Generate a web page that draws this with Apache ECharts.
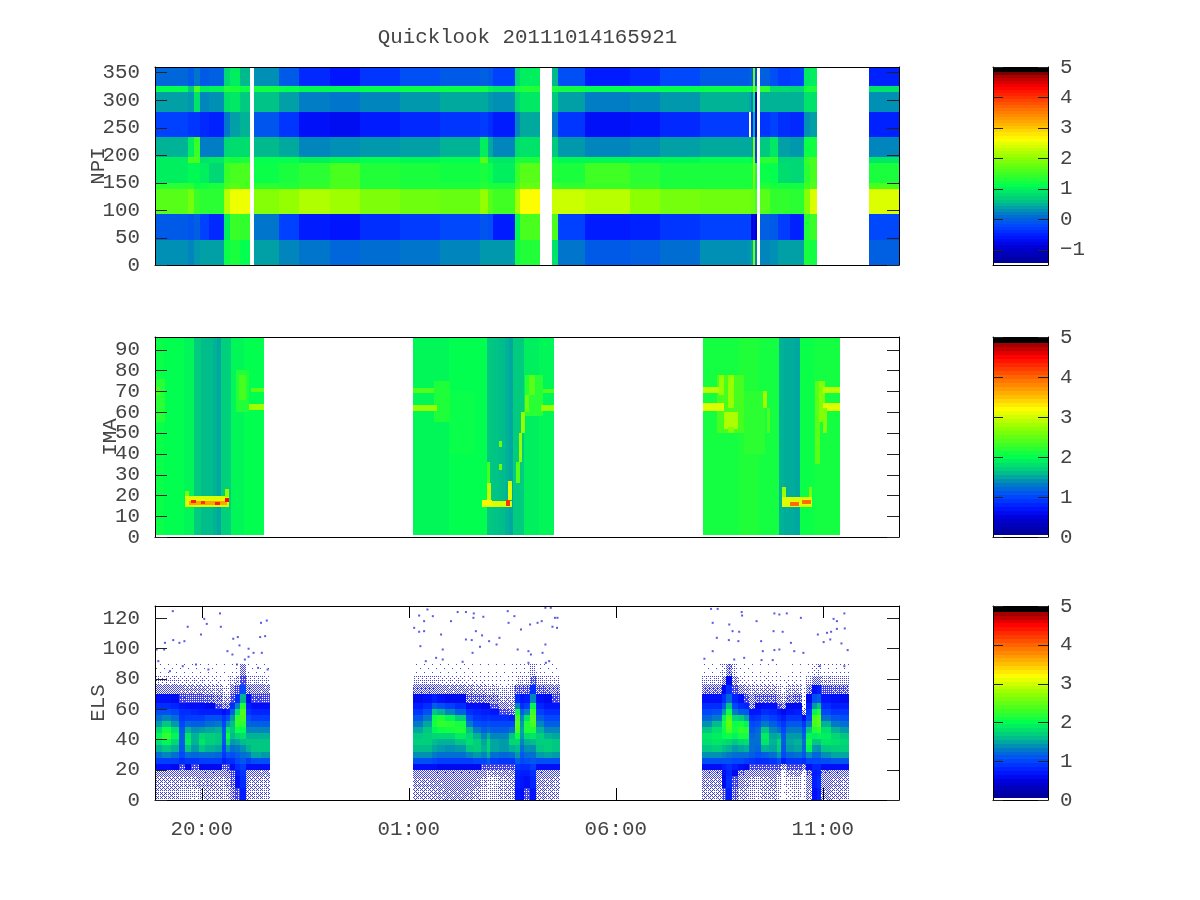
<!DOCTYPE html>
<html><head><meta charset="utf-8">
<style>html,body{margin:0;padding:0;background:#fff}#c{width:1200px;height:900px}</style>
<script src="https://cdn.jsdelivr.net/npm/echarts@6/dist/echarts.min.js"></script>
</head><body><div id="c"></div>
<script>
const titleText = 'Quicklook 20111014165921';
const timeMin = 18.87, timeMax = 36.84;
const timeTicks = [20, 25, 30, 35];

// NPI: column edges (hours), row edges (degrees), columns bottom -> top
const npiEdges = [18.87,19.655,19.824,19.945,20.186,20.525,20.67,20.911,21.17,21.273,21.877,22.36,23.085,23.81,24.776,25.742,26.708,26.902,27.022,27.554,27.674,28.181,28.447,28.592,29.244,30.331,31.056,32.022,33.206,33.254,33.302,33.351,33.399,33.472,33.714,33.907,34.196,34.534,34.68,34.849,36.105,36.841];
const npiRowEdges = [0,46,92,139,150,185,197,232,278,314,325,360];
const npiColumns = [
[.25,-.1,1.6,1.3,.9,.9,.45,-.3,.35,1.05,0],
[.2,-.15,1.8,1.3,1,1.5,.9,-.4,.3,.6,-.1],
[.3,-.05,1.4,1.1,1,1.5,1.4,-.4,.8,1.5,.1],
[.35,-.3,1.3,1.15,.9,.8,.15,-.5,.2,.9,-.1],
[.35,-.5,1.3,1.2,.7,.85,.15,-.55,.25,.95,-.05],
[1.1,.9,2.2,1.5,1.4,1.2,.7,.1,.8,1.25,.7],
[1.2,1.4,2.5,1.6,1.5,1.15,.75,.35,.85,1.2,.9],
[1.05,1.35,2.5,1.5,1.5,1.2,.75,.45,.6,1.1,.5],
null,
[.35,.1,1.9,1.3,1.1,1.05,.5,-.15,.55,1.15,.25],
[.2,-.3,2,1.25,1.2,1.05,.4,-.4,.35,1.05,-.1],
[.1,-.6,2.15,1.35,1.3,.95,.2,-.7,.15,1,-.5],
[0,-.65,2.05,1.5,1.5,1,.25,-.75,.1,1,-.65],
[.05,-.45,1.85,1.25,1.25,1.05,.3,-.6,.2,1.05,-.4],
[.1,-.35,1.75,1.2,1.2,1,.35,-.5,.3,1.1,-.2],
[.2,-.25,1.7,1.2,1.15,1.05,.45,-.4,.4,1.1,-.1],
[.3,-.15,2,1.25,1.2,1.6,.9,-.35,.4,1.15,-.05],
[.3,-.2,1.6,1.2,1.1,.9,.4,-.45,.3,.95,-.1],
[.3,-.6,1.45,1.2,.9,.85,.2,-.6,.25,.85,-.3],
[1.15,1,2.1,1.5,1.4,1.2,.75,.2,.7,1.2,.7],
[1.25,1.5,2.6,1.7,1.6,1.2,.8,.4,.85,1.25,.9],
null,
[.8,1.5,2.3,1.4,1.25,1.1,.6,.1,.6,1.2,.5],
[.1,-.3,2.3,1.35,1.2,1,.3,-.4,.35,1.15,-.2],
[-.1,-.6,2.2,1.4,1.45,1,.2,-.7,.15,1.05,-.6],
[-.05,-.55,1.95,1.35,1.3,1,.25,-.65,.2,1.05,-.5],
[.05,-.4,1.8,1.2,1.2,1,.35,-.5,.3,1.05,-.25],
[.25,-.3,1.75,1.2,1.2,1.05,.4,-.35,.45,1.1,-.1],
[.3,-.3,1.75,1.2,1.2,1.05,.4,null,.4,1.1,-.05],
[.4,-.9,1.7,1.2,1.2,1,.4,-.5,.1,1.1,0],
[1.8,-.8,1.7,1.8,1.9,1.9,1.9,.5,1,1.9,1.8],
[.2,-1,1.5,1.1,1.1,-.2,-.3,-.8,-1,1,-.2],
null,
[.2,-.05,1.6,1.25,1.1,1.3,.6,-.4,.45,1.3,-.05],
[.25,-.1,1.35,1.2,1.05,1.35,.85,-.3,.45,.75,-.2],
[.35,-.35,1.35,1.15,.75,.7,.35,-.45,.45,.75,-.35],
[.35,-.55,1.3,1.15,.7,.7,.3,-.5,.45,.7,-.3],
[1.2,1.25,1.9,1.45,1.3,1.4,1.1,.25,.8,1.2,.85],
[1.15,1.4,2.4,1.55,1.5,1.5,1.15,.35,.8,1.2,.9],
null,
[-.05,-.25,2.4,1.5,1.2,.85,.2,-.55,.25,.8,-.55]
];

// IMA: background column edges (hours) and column levels, plus read-off ridge patches
const imaBgEdges = [18.88,19.09,19.34,19.58,19.82,19.99,20.13,20.28,20.37,20.47,20.71,21.03,21.51,25.11,25.5,25.98,26.46,26.9,27.04,27.19,27.33,27.43,27.52,27.79,28.15,28.51,32.11,32.5,32.98,33.47,33.93,34.07,34.19,34.34,34.46,34.79,35.16,35.42];
const imaBgValues = [2,1.95,1.95,1.9,1.62,1.55,1.55,1.5,1.45,1.65,1.9,1.95,null,1.9,1.9,1.95,1.95,1.6,1.58,1.55,1.5,1.45,1.62,1.85,1.9,null,2.05,2.05,2.1,2.05,1.5,1.48,1.48,1.45,2,2.05,2.05];
const imaRowEdges = [1,96];
const imaPatches = [
[19.6,20.66,14.5,19.5,3],[19.7,20.6,15.5,17.5,3.6],[19.75,19.85,16.5,18,4.3],[19.98,20.08,16,17.5,4.2],[20.32,20.45,15.5,17,4.3],[20.56,20.66,17,18.5,4.4],[19.6,19.68,19.5,22,2.6],[20.56,20.66,19,23,2.7],
[20.83,21.15,60,80,2.12],[20.9,21.08,66,78,2.3],[21.15,21.51,61,64,2.75],[21.2,21.51,69.5,71.5,2.4],[18.88,19.1,55,76,2.15],[18.88,18.98,68,72,2.3],
[25.6,26,55,75,2.1],[26,26.6,40,70,1.99],[25.11,25.69,60.7,63.5,2.7],[25.11,25.6,69,71.5,2.35],
[26.78,27.5,14.5,17.5,3],[27.35,27.44,15,18,4.2],[26.78,27,15.5,18,3.2],[26.9,26.99,18,26,2.9],[26.9,26.97,26,36,2.3],[27.4,27.5,18,27,3],
[27.8,28.25,58,78,2.15],[27.6,27.68,26,36,2.4],[27.66,27.74,36,50,2.7],[27.72,27.8,50,60,2.7],[27.8,27.9,60,68,2.5],[27.9,28.05,68,78,2.4],[28.2,28.51,60.7,63.5,2.7],[28.25,28.51,69,71,2.35],[27.17,27.24,43,46,2.5],[27.17,27.24,32,35,2.5],
[33.1,33.6,40,70,2.17],[32.45,33.1,50,78,2.3],[32.11,32.62,60.5,64.5,3],[32.11,32.6,69,72,2.85],[32.5,32.62,68,78,2.7],[32.72,32.85,62,78,2.7],[32.62,32.95,52,60,2.8],[32.7,32.85,50,53,2.6],[33.55,33.65,62,70,2.75],[33.65,33.72,50,62,2.35],
[34.02,34.75,14.5,19,3],[34.2,34.42,15,17,3.9],[34.5,34.72,16,18,3.9],[34.02,34.1,19,24,2.7],[34.66,34.75,19,24,2.6],
[34.82,34.92,35,75,2.4],[34.9,35.05,55,75,2.6],[35,35.42,60.5,64.5,3],[35,35.42,69,72,2.85],[35,35.1,50,62,2.6]
];

// ELS: column edges (hours), row edges (bins), columns bottom -> top
const elsEdges = [18.87,19.05,19.26,19.46,19.6,19.75,19.94,20.08,20.33,20.5,20.59,20.69,20.81,20.93,21.07,21.2,21.44,21.65,25.11,25.35,25.57,25.69,25.88,26.12,26.39,26.56,26.75,26.9,26.97,27.19,27.43,27.57,27.69,27.79,27.93,28.08,28.27,28.47,28.66,32.09,32.33,32.57,32.67,32.81,32.96,33.1,33.22,33.35,33.51,33.71,33.9,34,34.12,34.31,34.5,34.6,34.75,34.87,34.96,35.2,35.42,35.64];
const elsRowEdges = [0,8,16,20,24,28,32,36,40,44,48,52,56,60,64,70,76,82,90];
const elsColumns = [
[.2,.22,.3,.6,.9,1.2,1.5,1.75,1.9,1.7,1.4,1.2,1,.8,.6,.3,.1,.02],
[.2,.22,.3,.6,.9,1.3,1.6,1.9,2.2,2,1.6,1.3,1,.8,.6,.3,.1,.02],
[.2,.22,.3,.55,.9,1.2,1.5,1.7,1.9,1.75,1.4,1.2,.95,.75,.55,.3,.1,.02],
[.15,.2,.3,.5,.8,.95,1.05,1.1,1.1,1.05,.95,.85,.8,.65,.5,.28,.08,.02],
[.15,.2,.3,.55,.85,1.2,1.6,1.85,1.8,1.5,1.15,.9,.8,.6,.45,.25,.08,.02],
[.12,.2,.3,.5,.85,1.15,1.4,1.5,1.5,1.35,1.1,.9,.75,.6,.45,.25,.08,.02],
[.2,.25,.3,.55,.9,1.2,1.6,1.8,1.7,1.4,1.1,.9,.7,.6,.45,.25,.08,.02],
[.22,.25,.32,.55,.9,1.2,1.5,1.65,1.65,1.45,1.2,1,.7,.55,.4,.22,.06,.02],
[.2,.22,.3,.55,.9,1.15,1.45,1.6,1.6,1.5,1.25,1,.7,.5,.35,.2,.05,.01],
[.15,.2,.3,.45,.7,.85,.95,1.05,1.1,1.05,.95,.85,.6,.35,.2,.1,.03,.01],
[.2,.25,.35,.5,.8,1.05,1.4,1.8,2,1.8,1.4,1,.7,.35,.2,.08,.03,.01],
[.35,.4,.45,.6,.8,1,1.2,1.4,1.55,1.6,1.55,1.4,1.1,.8,.5,.3,.1,.02],
[.5,.6,.7,.8,.95,1.1,1.25,1.45,1.7,2,2.2,2.2,1.8,1.3,.8,.45,.2,.05],
[.7,.8,.85,.9,1.05,1.2,1.35,1.55,1.75,1.95,2.15,2.3,2.35,2.1,1.5,.95,.5,.3],
[.22,.25,.3,.6,.9,1.25,1.5,1.6,1.5,1.3,1.15,1,.85,.7,.55,.35,.12,.02],
[.2,.22,.3,.6,1,1.45,1.6,1.6,1.5,1.3,1.1,.9,.75,.6,.5,.3,.12,.02],
[.18,.2,.28,.6,1,1.4,1.6,1.6,1.5,1.3,1.1,.9,.75,.6,.45,.28,.1,.02],
null,
[.22,.25,.3,.6,1,1.35,1.55,1.65,1.6,1.45,1.25,1.05,.85,.7,.55,.33,.12,.02],
[.22,.25,.3,.6,1,1.35,1.55,1.65,1.65,1.6,1.45,1.25,1,.8,.6,.33,.12,.02],
[.25,.28,.32,.6,.95,1.25,1.45,1.55,1.7,1.9,2.05,2,1.6,1.1,.7,.33,.12,.02],
[.25,.28,.32,.55,.9,1.2,1.4,1.5,1.7,2,2.2,2.1,1.5,1,.6,.3,.1,.02],
[.28,.3,.33,.55,.9,1.2,1.35,1.5,1.7,2.05,2.15,1.9,1.3,.9,.55,.28,.08,.02],
[.28,.3,.33,.55,.9,1.2,1.4,1.6,1.85,2.1,2.05,1.65,1.1,.8,.55,.28,.08,.02],
[.25,.3,.33,.55,.9,1.3,1.6,1.75,1.7,1.55,1.25,1,.8,.6,.4,.25,.06,.02],
[.22,.28,.32,.55,.95,1.4,1.65,1.65,1.5,1.25,1,.85,.75,.6,.4,.22,.05,.01],
[.15,.18,.3,.5,.95,1.3,1.5,1.45,1.3,1.1,.95,.8,.7,.55,.4,.2,.05,.01],
[.1,.05,.2,.5,1.1,1.5,1.7,1.7,1.5,1.2,1,.85,.7,.55,.35,.18,.04,.01],
[.15,.12,.25,.5,.9,1.2,1.45,1.45,1.3,1.1,.95,.8,.65,.5,.35,.18,.04,.01],
[.2,.2,.28,.5,.85,1.15,1.4,1.4,1.3,1.1,.95,.8,.5,.3,.2,.12,.03,.01],
[.2,.22,.28,.5,.85,1.2,1.5,1.7,1.6,1.2,.95,.7,.4,.25,.2,.15,.04,.01],
[.65,.7,.75,.85,1.1,1.4,1.55,1.7,2,2.3,2.4,2.3,2,1.3,.8,.4,.12,.03],
[.6,.65,.7,.8,.95,1.05,1.2,1.3,1.4,1.45,1.4,1.3,1.1,.8,.65,.4,.12,.03],
[.5,.6,.7,.8,1,1.2,1.35,1.5,1.75,2.1,2.1,1.8,1.3,.9,.7,.4,.12,.03],
[.65,.75,.8,.9,1.05,1.2,1.35,1.55,1.8,2.1,2.3,2.35,2.25,1.9,1.3,.8,.4,.15],
[.25,.28,.33,.6,1,1.4,1.6,1.65,1.65,1.5,1.3,1.1,.9,.75,.6,.4,.15,.03],
[.22,.25,.3,.6,1,1.45,1.65,1.65,1.5,1.3,1.1,.95,.8,.65,.55,.35,.12,.02],
[.2,.22,.3,.6,1,1.4,1.6,1.6,1.45,1.3,1.1,.95,.8,.65,.5,.33,.1,.02],
null,
[.22,.25,.32,.6,1,1.35,1.6,1.75,1.8,1.6,1.35,1.15,.95,.8,.6,.35,.12,.02],
[.22,.25,.32,.6,1,1.35,1.65,1.8,1.85,1.75,1.55,1.25,1,.8,.6,.35,.13,.02],
[.45,.55,.6,.7,1,1.3,1.55,1.75,1.95,2,2.05,1.9,1.4,1.05,.8,.55,.3,.1],
[.7,.8,.75,.8,1,1.25,1.5,1.7,2,2.35,2.45,2.35,2,1.6,1.15,.8,.55,.35],
[.4,.5,.55,.7,.95,1.2,1.4,1.6,1.9,2.05,2,1.7,1.25,.95,.75,.5,.25,.1],
[.22,.3,.4,.6,.95,1.2,1.45,1.7,2.05,2.2,2.05,1.65,1.1,.8,.6,.3,.08,.02],
[.2,.25,.32,.55,.9,1.2,1.5,1.75,2.05,2.15,1.9,1.45,1.05,.75,.5,.25,.06,.02],
[.15,.2,.3,.5,.85,1.1,1.2,1.2,1.15,1.05,.95,.8,.65,.35,.3,.2,.05,.01],
[.1,.15,.3,.5,.8,1,1.15,1.2,1.2,1.15,1,.85,.65,.55,.4,.2,.05,.01],
[.2,.22,.3,.5,.8,1.1,1.5,1.8,1.85,1.6,1.25,1,.8,.6,.4,.22,.06,.01],
[.22,.25,.3,.5,.85,1.2,1.45,1.5,1.45,1.3,1.1,.9,.75,.6,.4,.22,.05,.01],
[.12,.15,.28,.5,1,1.4,1.65,1.7,1.5,1.2,.95,.8,.65,.5,.3,.15,.03,.01],
[.02,.03,.05,.25,.7,.95,1.05,1.1,1.05,.95,.85,.7,.55,.35,.2,.06,.01,0],
[.08,.12,.25,.5,.85,1.15,1.4,1.45,1.4,1.25,1.05,.85,.65,.55,.35,.2,.05,.01],
[.12,.15,.28,.5,.85,1.2,1.45,1.5,1.4,1.25,1.05,.85,.7,.55,.4,.2,.05,.01],
[.03,.03,.05,.35,.8,1.05,1.15,1.2,1.1,1,.85,.6,.25,.06,.03,.03,.01,0],
[.25,.3,.4,.6,.95,1.35,1.9,2.05,1.9,1.6,1.25,.95,.85,.7,.55,.35,.12,.02],
[.6,.7,.7,.75,.95,1.15,1.4,1.6,1.85,2.1,2.3,2.3,1.9,1.4,1,.6,.3,.08],
[.7,.8,.75,.75,.95,1.15,1.35,1.6,1.9,2.2,2.4,2.4,2.1,1.6,1.1,.7,.3,.1],
[.28,.3,.35,.6,1,1.35,1.6,1.8,1.85,1.75,1.5,1.2,.95,.8,.65,.45,.18,.03],
[.22,.25,.32,.6,1.05,1.45,1.65,1.75,1.7,1.5,1.25,1.05,.85,.7,.6,.4,.15,.03],
[.2,.22,.3,.6,1.05,1.45,1.65,1.7,1.6,1.4,1.2,1,.85,.7,.55,.38,.15,.03]
];
// isolated ELS counts above the main population: [hour, bin]
const elsSparse = [
[19.3,124.6],[19.66,114.3],[19.98,109.2],[19.46,103.7],[19.58,104.8],[19.31,105.5],[20.12,116.2],[20.06,119.5],[20.44,123.1],[20.46,114.3],[21.43,116.9],[21.57,118.4],[21.53,108.1],[21.41,107.5],[20.87,107.5],[20.76,106.4],[20.91,102],[20.62,98.2],[20.74,96],[21.13,99.8],[21.25,97.1],[21.45,97.1],[21.13,94.5],[21.04,92.7],[19.11,103.7],[18.91,99.3],[19.09,99.3],[18.95,91.6],[19.23,85],[19.54,88.3],[19.86,89.4],[20.16,86.1],[21.36,87.2],[21.59,86.1],[20.85,89.4],
[25.37,118],[25.25,121.7],[25.45,125.7],[25.58,121.3],[25.13,113.6],[25.25,111],[25.37,111.4],[25.78,109.2],[26.02,118],[26.18,124],[26.38,124],[26.57,123.1],[26.56,120.2],[26.8,120.9],[27.39,124.6],[27.55,121.3],[27.41,116.9],[27.71,112.5],[27.93,115.8],[28.11,116.9],[28.21,118],[28.43,126.8],[28.3,126.8],[28.53,120.2],[28.59,120.2],[28.47,114.3],[28.58,113.6],[26.62,111.4],[26.77,108.6],[26.38,105.9],[26.52,105.5],[26.94,104.8],[27.12,102.6],[27.19,107],[25.28,101.5],[25.82,99.3],[25.66,93.8],[25.82,92.7],[26.3,91.2],[26.54,97.1],[26.72,101.1],[27.63,99.3],[27.89,98.2],[27.95,96],[28.23,97.1],[28.3,102.6],[28.39,91.6],[25.41,91.6],[27.89,90.5],[28.31,90.5],
[32.3,126.1],[32.46,126.1],[33.04,124],[33.05,121.7],[32.34,116.9],[32.74,115.8],[32.98,111],[32.82,111.4],[32.73,105.5],[32.96,104.8],[32.44,107],[33.4,118],[33.83,123.1],[33.95,122.4],[34.13,123.1],[34.47,120.2],[35.26,119.5],[35.34,118],[35.52,123.1],[34.03,111],[33.81,111.4],[33.51,104.8],[34.23,103.7],[34.88,109.2],[35.1,110.3],[35.2,111],[35.34,112.9],[35.53,113.2],[35.02,104.2],[35.18,105.9],[35.45,103.3],[35.6,98.9],[33.95,99.3],[33.83,98.9],[33.55,98.2],[34.53,97.1],[34.31,98.2],[32.34,98.2],[32.14,93.2],[32.86,92.7],[33.1,93.8],[33.79,92.3],[33.52,92.3],[34.93,88.3],[35.52,88.3]
];

// colour-bar scales
const cbarNpiLevels = [-1.45,-1.35,-1.25,-1.15,-1.05,-.95,-.85,-.75,-.65,-.55,-.45,-.35,-.25,-.15,-.05,.05,.15,.25,.35,.45,.55,.65,.75,.85,.95,1.05,1.15,1.25,1.35,1.45,1.55,1.65,1.75,1.85,1.95,2.05,2.15,2.25,2.35,2.45,2.55,2.65,2.75,2.85,2.95,3.05,3.15,3.25,3.35,3.45,3.55,3.65,3.75,3.85,3.95,4.05,4.15,4.25,4.35,4.45,4.55,4.65,4.75,4.85,4.95];
const cbarLevels = [.05,.15,.25,.35,.45,.55,.65,.75,.85,.95,1.05,1.15,1.25,1.35,1.45,1.55,1.65,1.75,1.85,1.95,2.05,2.15,2.25,2.35,2.45,2.55,2.65,2.75,2.85,2.95,3.05,3.15,3.25,3.35,3.45,3.55,3.65,3.75,3.85,3.95,4.05,4.15,4.25,4.35,4.45,4.55,4.65,4.75,4.85,4.95];
const cbarNpiTicks = [-1,0,1,2,3,4,5];
const cbarTicks = [0,1,2,3,4,5];
const npiTicks = [0,50,100,150,200,250,300,350];
const imaTicks = [0,10,20,30,40,50,60,70,80,90];
const elsTicks = [0,20,40,60,80,100,120];

// palette stops: fraction of the scale -> rgb
const paletteStops = [[0,[0,0,150]],[.09,[0,0,220]],[.13,[0,20,255]],[.19,[0,70,255]],[.24,[0,110,210]],[.32,[0,200,130]],[.39,[0,255,80]],[.46,[70,255,30]],[.54,[150,255,0]],[.63,[255,255,0]],[.69,[255,190,0]],[.79,[255,100,0]],[.89,[255,0,0]],[.96,[150,0,0]],[.968,[0,0,0]],[1,[0,0,0]]];
const palette = [];
for (let i = 0; i <= 128; i++) {
  const f = i / 128; let k = 0;
  while (k < paletteStops.length - 2 && f > paletteStops[k + 1][0]) k++;
  const a = paletteStops[k], b = paletteStops[k + 1], t = (f - a[0]) / (b[0] - a[0]);
  palette.push('rgb(' + a[1].map((c, j) => Math.round(c + (b[1][j] - c) * t)).join(',') + ')');
}

function cellsFromColumns(edges, rows, columns) {
  const out = [];
  columns.forEach((col, i) => {
    if (!col) return;
    col.forEach((v, r) => { if (v !== null) out.push([edges[i], edges[i + 1], rows[r], rows[r + 1], v]); });
  });
  return out;
}
const npiCells = cellsFromColumns(npiEdges, npiRowEdges, npiColumns);
const imaCells = cellsFromColumns(imaBgEdges, imaRowEdges, imaBgValues.map(v => v === null ? null : [v])).concat(imaPatches);
const elsCells = cellsFromColumns(elsEdges, elsRowEdges, elsColumns);

function renderCell(p, api) {
  const a = api.coord([api.value(0), api.value(2)]);
  const b = api.coord([api.value(1), api.value(3)]);
  const x0 = Math.round(a[0]), x1 = Math.round(b[0]), y0 = Math.round(b[1]), y1 = Math.round(a[1]);
  return { type: 'rect', shape: { x: x0, y: y0, width: Math.max(1, x1 - x0), height: Math.max(1, y1 - y0) }, style: { fill: api.visual('color') } };
}
// in the ELS panel, low levels are thin scatters of blue counts on white: shown as an ordered stipple
const stippleOrder = [0,32,8,40,2,34,10,42,48,16,56,24,50,18,58,26,12,44,4,36,14,46,6,38,60,28,52,20,62,30,54,22,3,35,11,43,1,33,9,41,51,19,59,27,49,17,57,25,15,47,7,39,13,45,5,37,63,31,55,23,61,29,53,21];
const stippleCache = {};
function stipple(density) {
  const q = Math.min(64, Math.max(1, Math.round(density * 64)));
  if (stippleCache[q]) return stippleCache[q];
  const cv = document.createElement('canvas'); cv.width = cv.height = 8;
  const ctx = cv.getContext('2d');
  ctx.fillStyle = 'rgba(25,25,225,.82)';
  stippleOrder.forEach((o, i) => { if (o < q) ctx.fillRect(i % 8, Math.floor(i / 8), 1, 1); });
  return (stippleCache[q] = { image: cv, repeat: 'repeat' });
}
function renderEls(p, api) {
  const el = renderCell(p, api), v = api.value(4);
  if (v <= 0) return null;
  if (v < .55) el.style.fill = stipple(v / .6);
  return el;
}
const FONT = 'Liberation Mono';
const TXT = '#444';
const lbl = { fontFamily: FONT, fontSize: 20.8, color: TXT };
const panels = [
 { top: 67, h: 198, min: 0, max: 360, ticks: npiTicks, name: 'NPI', gap: 46 },
 { top: 337, h: 200, min: 0, max: 96, ticks: imaTicks, name: 'IMA', gap: 34 },
 { top: 606, h: 194, min: 0, max: 128, ticks: elsTicks, name: 'ELS', gap: 46 }
];
const grid = [], xAxis = [], yAxis = [], series = [];
const line = { show: true, onZero: false, lineStyle: { color: '#000', width: 1 } };
panels.forEach((p, i) => {
  grid.push({ left: 155, top: p.top, width: 744, height: p.h, containLabel: false });
  const showT = i === 2;
  [0, 1].forEach(side => xAxis.push({
    type: 'value', gridIndex: i, min: timeMin, max: timeMax, position: side ? 'top' : 'bottom', z: 10, splitLine: { show: false }, axisLine: line,
    axisTick: { show: showT, inside: true, length: 12, customValues: timeTicks, lineStyle: { color: '#000' } },
    axisLabel: { show: showT && !side, customValues: timeTicks, margin: 19, ...lbl, formatter: v => String(v % 24).padStart(2, '0') + ':00' }
  }));
  [0, 1].forEach(side => yAxis.push({
    type: 'value', gridIndex: i, min: p.min, max: p.max, position: side ? 'right' : 'left', z: 10, splitLine: { show: false }, axisLine: line,
    axisTick: { show: false },
    axisLabel: { show: !side, customValues: p.ticks, margin: 15, padding: [4, 0, 0, 0], ...lbl },
    name: side ? '' : p.name, nameLocation: 'middle', nameGap: p.gap, nameRotate: 90, nameMoveOverlap: false, nameTextStyle: lbl
  }));
});
panels.forEach((p, i) => {
  const g = 3 + i;
  const tk = i === 0 ? cbarNpiTicks : cbarTicks;
  grid.push({ left: 993, top: p.top, width: 55, height: p.h, containLabel: false });
  [0, 1].forEach(side => xAxis.push({
    type: 'value', gridIndex: g, min: 0, max: 1, position: side ? 'top' : 'bottom', z: 10, splitLine: { show: false }, axisLine: line, axisTick: { show: false }, axisLabel: { show: false }
  }));
  [0, 1].forEach(side => yAxis.push({
    type: 'value', gridIndex: g, min: i === 0 ? -1.5 : 0, max: 5, position: side ? 'right' : 'left', z: 10, splitLine: { show: false }, axisLine: line,
    axisTick: { show: false },
    axisLabel: { show: !!side, customValues: tk, margin: 12, padding: [4, 0, 0, 0], ...lbl, formatter: v => String(v).replace('-', '\u2212') }
  }));
});
const cellSeries = (data, idx, fn) => ({
  type: 'custom', coordinateSystem: 'cartesian2d', xAxisIndex: idx, yAxisIndex: idx, data, renderItem: fn || renderCell,
  encode: { x: [0, 1], y: [2, 3] }, clip: true, silent: true, animation: false, z: 1, progressive: 0
});
series.push(cellSeries(npiCells, 0));
series.push(cellSeries(imaCells, 2));
series.push(cellSeries(elsCells, 4, renderEls));
series.push(cellSeries(cbarNpiLevels.map(v => [0, 1, v, v + .1, v]), 6));
series.push(cellSeries(cbarLevels.map(v => [0, 1, v, v + .1, v]), 8));
series.push(cellSeries(cbarLevels.map(v => [0, 1, v, v + .1, v]), 10));
series.push({ type: 'scatter', xAxisIndex: 4, yAxisIndex: 4, data: elsSparse, symbol: 'rect', symbolSize: 2, itemStyle: { color: '#3030e0' }, silent: true, animation: false, z: 3 });
// tick marks that stay visible on top of the filled cells
const tickSeries = (ticks, idx, xRef, len) => ({
  type: 'custom', coordinateSystem: 'cartesian2d', xAxisIndex: idx, yAxisIndex: idx, data: ticks.map(v => [xRef, v]),
  encode: { x: 0, y: 1 }, clip: false, silent: true, animation: false, z: 20,
  renderItem: (p, api) => {
    const y = Math.round(api.coord([xRef, api.value(1)])[1]) + .5, c = p.coordSys;
    const seg = (x1, x2) => ({ type: 'line', shape: { x1, y1: y, x2, y2: y }, style: { stroke: '#222', lineWidth: 1 } });
    return { type: 'group', children: [seg(c.x, c.x + len), seg(c.x + c.width - len, c.x + c.width)] };
  }
});
series.push(tickSeries(npiTicks, 0, timeMin, 12), tickSeries(imaTicks, 2, timeMin, 12), tickSeries(elsTicks, 4, timeMin, 12));
series.push(tickSeries(cbarNpiTicks, 6, 0, 10), tickSeries(cbarTicks, 8, 0, 10), tickSeries(cbarTicks, 10, 0, 10));

const chart = echarts.init(document.getElementById('c'), null, { renderer: 'canvas' });
chart.setOption({
  animation: false, backgroundColor: '#fff',
  title: { text: titleText, left: 522.5, top: 22, textAlign: 'center', textStyle: { fontFamily: FONT, fontSize: 20.8, fontWeight: 'normal', color: TXT } },
  tooltip: { show: false },
  grid, xAxis, yAxis, series,
  visualMap: [
    { type: 'continuous', show: false, seriesIndex: [0, 3], dimension: 4, min: -1.5, max: 5, inRange: { color: palette } },
    { type: 'continuous', show: false, seriesIndex: [1, 2, 4, 5], dimension: 4, min: 0, max: 5, inRange: { color: palette } }
  ]
});
</script></body></html>
